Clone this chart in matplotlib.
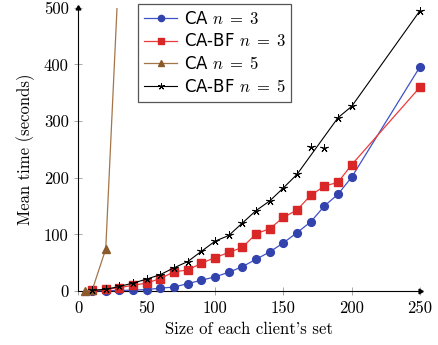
import numpy as np
import matplotlib
matplotlib.use('Agg')
import matplotlib.pyplot as plt
from matplotlib.patches import Rectangle

plt.rcParams['mathtext.fontset'] = 'cm'
plt.rcParams['axes.formatter.use_mathtext'] = True

# data
x_n3 = [10, 20, 30, 40, 50, 60, 70, 80, 90, 100, 110, 120, 130, 140, 150, 160, 170, 180, 190, 200, 250]
ca_n3 = [0.3, 0.6, 1, 1.5, 2.5, 5, 7, 13, 19, 25, 33, 43, 56, 69, 85, 103, 122, 150, 171, 201, 396]
cabf_n3 = [1, 3, 6, 10, 14, 22, 34, 37, 49, 59, 68, 77, 101, 110, 130, 143, 169, 185, 192, 223, 360]

x_ca_n5 = [5, 10, 20, 30]
ca_n5 = [0, 1, 74, 590]

x_cabf_n5 = [10, 20, 30, 40, 50, 60, 70, 80, 90, 100, 110, 120, 130, 140, 150, 160, 170, 180, 190, 200, 250]
cabf_n5 = [1, 3, 8, 14, 21, 29, 41, 52, 70, 88, 98, 120, 142, 159, 182, 206, 254, 253, 306, 326, 495]
# the black curve skips these two points (marks only)
cabf_n5_off_line = [170, 180]

xticks = [0, 50, 100, 150, 200, 250]
yticks = [0, 100, 200, 300, 400, 500]

blue_line, blue_mark = '#3f52c8', '#3343ad'
red_line, red_mark = '#ec3b3b', '#d92626'
brown_line, brown_mark = '#a47548', '#8b5a2b'
star = (5, 2, 0)
fs = 12

fig = plt.figure(figsize=(4.38, 3.45), dpi=100)
ax = fig.add_axes([0.179, 0.1565, 0.780, 0.821])

ax.plot(x_n3, ca_n3, color=blue_line, lw=0.9, marker='o', ms=5.6,
        mfc=blue_mark, mec=blue_mark, clip_on=False, zorder=3, label=r'CA $n\;=\;3$')
ax.plot(x_n3, cabf_n3, color=red_line, lw=0.9, marker='s', ms=5.4,
        mfc=red_mark, mec=red_mark, clip_on=False, zorder=3, label=r'CA-BF $n\;=\;3$')

# brown series: line goes off the top, keep the bottom marker whole
brown, = ax.plot(x_ca_n5, ca_n5, color=brown_line, lw=0.9, marker='^', ms=5.2,
                 mfc=brown_mark, mec=brown_mark, zorder=3, label=r'CA $n\;=\;5$')
brown.set_clip_path(Rectangle((-0.1, -0.1), 1.2, 1.1, transform=ax.transAxes))

x5 = np.array(x_cabf_n5)
y5 = np.array(cabf_n5)
on_line = ~np.isin(x5, cabf_n5_off_line)
ax.plot(x5[on_line], y5[on_line], color='black', lw=0.8, clip_on=False, zorder=4)
ax.plot(x5, y5, ls='none', marker=star, ms=6, color='black', mew=0.7,
        clip_on=False, zorder=4)
ax.plot([], [], color='black', lw=0.8, marker=star, ms=6, mew=0.7,
        label=r'CA-BF $n\;=\;5$')

ax.set_xlim(0, 250)
ax.set_ylim(0, 500)
ax.set_xticks(xticks)
ax.set_yticks(yticks)
ax.set_xticklabels([str(t) for t in xticks], family='cmr10', fontsize=fs)
ax.set_yticklabels([str(t) for t in yticks], family='cmr10', fontsize=fs)
ax.tick_params(direction='inout', length=6, width=0.6, color='#999999', pad=4)

for s in ['top', 'right']:
    ax.spines[s].set_visible(False)
for s in ['left', 'bottom']:
    ax.spines[s].set_linewidth(0.8)
ax.plot(1, 0, marker=(3, 0, -90), ms=4, color='black', transform=ax.transAxes, clip_on=False)
ax.plot(0, 1, marker=(3, 0, 0), ms=4, color='black', transform=ax.transAxes, clip_on=False)

ax.set_xlabel("Size of each client's set", family='cmr10', fontsize=fs, labelpad=4)
ax.set_ylabel('Mean time (seconds)', family='cmr10', fontsize=fs, labelpad=6)

leg = ax.legend(loc='upper left', bbox_to_anchor=(138 / 438, 1 - 4 / 345),
                bbox_transform=fig.transFigure, fancybox=False, framealpha=1,
                edgecolor='#555555', handlelength=2.0, handletextpad=0.4,
                borderpad=0.35, labelspacing=0.28, borderaxespad=0, markerscale=0.8,
                prop={'family': 'DejaVu Sans', 'size': 12})
leg.get_frame().set_linewidth(0.9)

fig.savefig('out.png', dpi=100)
